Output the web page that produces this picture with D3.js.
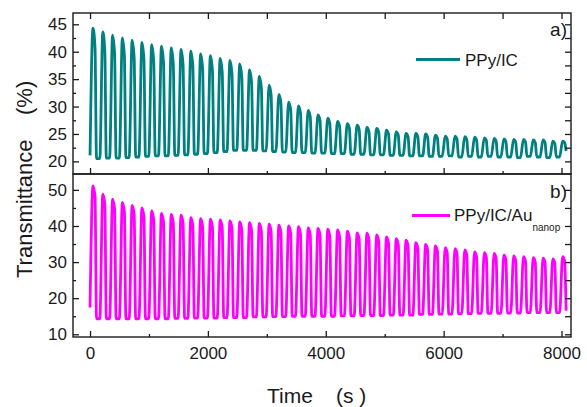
<!DOCTYPE html>
<html>
<head>
<meta charset="utf-8">
<script src="https://cdn.jsdelivr.net/npm/d3@7"></script>
<style>
  html, body { margin: 0; padding: 0; background: #fff; }
  svg { display: block; font-family: "Liberation Sans", Arial, sans-serif; }
  text { fill: #1a1a1a; }
</style>
</head>
<body>
<div id="chart"></div>
<script>
// start time (s) of each colour switching cycle
const cycleStart = [0, 166, 332, 498, 664, 830, 996, 1162, 1328, 1494, 1660, 1826, 1992,
    2158, 2324, 2490, 2656, 2822, 2988, 3154, 3320, 3486, 3652, 3818, 3984, 4150, 4316,
    4482, 4648, 4814, 4980, 5146, 5312, 5478, 5644, 5810, 5976, 6142, 6308, 6474, 6640,
    6806, 6972, 7138, 7304, 7470, 7636, 7802, 7968];

// a) PPy/IC : peak and trough transmittance per cycle (%)
const ppyStart = 21.1;
const ppyPeak = [44.3, 43.6, 43.0, 42.5, 42.1, 41.7, 41.3, 41.0, 40.7, 40.4, 40.1, 39.6,
    39.3, 38.8, 38.4, 37.8, 36.7, 35.5, 33.9, 32.2, 30.8, 30.1, 29.3, 28.5, 27.9, 27.3,
    26.9, 26.6, 26.2, 26.0, 25.7, 25.4, 25.1, 25.1, 25.0, 24.8, 24.6, 24.6, 24.5, 24.4,
    24.3, 24.2, 24.1, 24.0, 24.0, 23.9, 23.9, 23.7, 23.7];
const ppyLow = [20.5, 20.6, 20.6, 20.7, 20.8, 20.9, 21.0, 21.0, 21.1, 21.2, 21.3, 21.4,
    21.6, 21.8, 22.0, 22.0, 22.0, 21.9, 21.8, 21.7, 21.6, 21.6, 21.5, 21.5, 21.4, 21.4,
    21.3, 21.3, 21.2, 21.2, 21.1, 21.1, 21.0, 21.0, 20.9, 20.9, 21.0, 20.8, 20.9, 20.8,
    20.9, 20.8, 20.8, 20.7, 20.9, 20.8, 20.7, 20.8, 21.9];

// b) PPy/IC/Au nanop : peak and trough transmittance per cycle (%)
const auStart = 17.4;
const auPeak = [51.1, 48.8, 47.4, 46.5, 45.7, 45.0, 44.2, 43.5, 43.2, 43.0, 42.3, 42.0,
    41.9, 41.7, 41.4, 41.1, 40.9, 40.7, 40.5, 40.2, 40.0, 39.8, 39.5, 39.3, 39.1, 38.9,
    38.6, 38.1, 38.0, 37.5, 37.0, 36.5, 36.1, 35.4, 34.9, 34.5, 34.0, 33.7, 33.4, 32.8,
    32.6, 32.4, 32.0, 31.7, 31.5, 31.2, 31.1, 30.9, 31.5];
const auLow = [14.3, 14.3, 14.3, 14.3, 14.3, 14.3, 14.3, 14.3, 14.4, 14.4, 14.5, 14.5,
    14.5, 14.6, 14.6, 14.6, 14.8, 14.8, 14.9, 14.9, 15.0, 15.0, 15.0, 15.0, 15.0, 15.1,
    15.1, 15.2, 15.2, 15.2, 15.3, 15.3, 15.3, 15.5, 15.5, 15.6, 15.6, 15.7, 15.7, 15.8,
    15.8, 15.8, 15.9, 15.9, 16.0, 16.0, 16.0, 16.0, 16.5];

const xTicks = [0, 2000, 4000, 6000, 8000];
const xMinor = [1000, 3000, 5000, 7000];
const topTicks = [20, 25, 30, 35, 40, 45];
const topMinor = [22.5, 27.5, 32.5, 37.5, 42.5];
const botTicks = [10, 20, 30, 40, 50];
const botMinor = [15, 25, 35, 45];

const W = 587, H = 407;
const L = 73, R = 571;
const TOP = { y0: 13, y1: 174 };
const BOT = { y0: 174, y1: 337 };
const TEAL = '#008080', MAGENTA = '#ff00ff', INK = '#1a1a1a';

// square-ish switching wave through the per-cycle extrema
function wave(peaks, lows, start, hold) {
    const pts = [];
    let prev = start;
    cycleStart.forEach((t0, i) => {
        const hi = peaks[i], lo = lows[i];
        pts.push([t0, prev]);
        pts.push([t0 + 50, hi]);
        pts.push([t0 + 85, lo + hold * (hi - lo)]);
        pts.push([t0 + 110, lo]);
        prev = lo;
    });
    return pts;
}

const svg = d3.select('#chart').append('svg')
    .attr('width', W).attr('height', H)
    .attr('viewBox', `0 0 ${W} ${H}`);

const x = d3.scaleLinear().domain([-289, 8161]).range([L, R]);
const yTop = d3.scaleLinear().domain([17.7, 47.06]).range([TOP.y1, TOP.y0]);
const yBot = d3.scaleLinear().domain([9.25, 54.4]).range([BOT.y1, BOT.y0]);

function styleAxis(sel) {
    sel.select('.domain').remove();
    sel.selectAll('line').attr('stroke', INK).attr('stroke-width', 1.3);
    sel.selectAll('text').attr('fill', INK).attr('font-size', 17)
        .attr('font-family', '"Liberation Sans", Arial, sans-serif');
}

function panel(y, box, major, minor, data, color) {
    // data line
    const line = d3.line().x((d) => x(d[0])).y((d) => y(d[1])).curve(d3.curveMonotoneX);
    svg.append('path').datum(data)
        .attr('fill', 'none').attr('stroke', color)
        .attr('stroke-width', 2.8).attr('stroke-linejoin', 'round')
        .attr('d', line);

    // left axis, labelled
    svg.append('g').attr('transform', `translate(${L},0)`)
        .call(d3.axisLeft(y).tickValues(major).tickSize(-6).tickSizeOuter(0).tickPadding(6))
        .call(styleAxis);
    svg.append('g').attr('transform', `translate(${L},0)`)
        .call(d3.axisLeft(y).tickValues(minor).tickSize(-3).tickSizeOuter(0).tickFormat(''))
        .call(styleAxis);
    // right axis, ticks only
    svg.append('g').attr('transform', `translate(${R},0)`)
        .call(d3.axisRight(y).tickValues(major.concat(minor)).tickSize(-6).tickSizeOuter(0).tickFormat(''))
        .call(styleAxis);

    // frame
    svg.append('rect')
        .attr('x', L).attr('y', box.y0)
        .attr('width', R - L).attr('height', box.y1 - box.y0)
        .attr('fill', 'none').attr('stroke', INK).attr('stroke-width', 1.4);
}

panel(yTop, TOP, topTicks, topMinor, wave(ppyPeak, ppyLow, ppyStart, 0.85), TEAL);
panel(yBot, BOT, botTicks, botMinor, wave(auPeak, auLow, auStart, 0.92), MAGENTA);

// x ticks: top panel (top + bottom edges, no labels)
svg.append('g').attr('transform', `translate(0,${TOP.y0})`)
    .call(d3.axisTop(x).tickValues(xTicks.concat(xMinor)).tickSize(-6).tickSizeOuter(0).tickFormat(''))
    .call(styleAxis);
svg.append('g').attr('transform', `translate(0,${TOP.y1})`)
    .call(d3.axisBottom(x).tickValues(xTicks).tickSize(-6).tickSizeOuter(0).tickFormat(''))
    .call(styleAxis);
svg.append('g').attr('transform', `translate(0,${TOP.y1})`)
    .call(d3.axisBottom(x).tickValues(xMinor).tickSize(-3).tickSizeOuter(0).tickFormat(''))
    .call(styleAxis);

// x axis of bottom panel, labelled
svg.append('g').attr('transform', `translate(0,${BOT.y1})`)
    .call(d3.axisBottom(x).tickValues(xTicks).tickSize(-6).tickSizeOuter(0)
        .tickPadding(10).tickFormat(d3.format('d')))
    .call(styleAxis);
svg.append('g').attr('transform', `translate(0,${BOT.y1})`)
    .call(d3.axisBottom(x).tickValues(xMinor).tickSize(-3).tickSizeOuter(0).tickFormat(''))
    .call(styleAxis);

// axis titles
svg.append('text').attr('x', 267).attr('y', 403)
    .attr('font-size', 21).text('Time');
svg.append('text').attr('x', 336).attr('y', 403)
    .attr('font-size', 21).text('(s )');
svg.append('text').attr('transform', 'translate(32,278) rotate(-90)')
    .attr('font-size', 22).text('Transmittance');
svg.append('text').attr('transform', 'translate(32,115) rotate(-90)')
    .attr('font-size', 22).text('(%)');

// panel letters
svg.append('text').attr('x', 567).attr('y', 36).attr('text-anchor', 'end')
    .attr('font-size', 19).text('a)');
svg.append('text').attr('x', 567).attr('y', 198).attr('text-anchor', 'end')
    .attr('font-size', 19).text('b)');

// legends
svg.append('line').attr('x1', 416).attr('x2', 460).attr('y1', 59.5).attr('y2', 59.5)
    .attr('stroke', TEAL).attr('stroke-width', 2.8);
svg.append('text').attr('x', 465).attr('y', 66).attr('font-size', 17).text('PPy/IC');

svg.append('line').attr('x1', 412).attr('x2', 450).attr('y1', 215.5).attr('y2', 215.5)
    .attr('stroke', MAGENTA).attr('stroke-width', 2.8);
const lg = svg.append('text').attr('x', 454).attr('y', 221).attr('font-size', 17);
lg.append('tspan').text('PPy/IC/Au');
lg.append('tspan').attr('font-size', 10).attr('dy', 10).text('nanop');
</script>
</body>
</html>
